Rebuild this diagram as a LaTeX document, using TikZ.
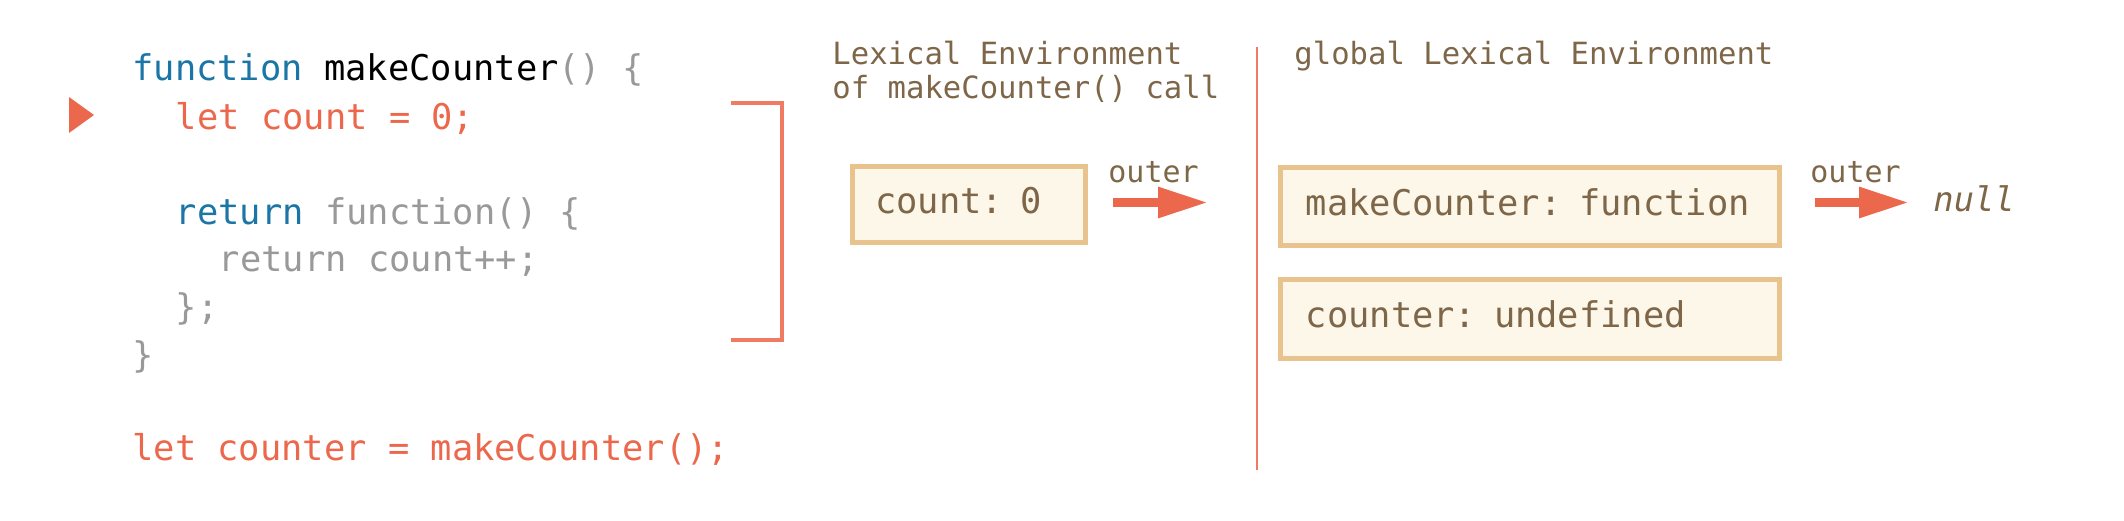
\documentclass[tikz,border=0pt]{standalone}
\usepackage{fontspec}
\usetikzlibrary{arrows.meta}
\newfontfamily\codefont{DejaVu Sans Mono}
\definecolor{kw}{RGB}{27,117,167}
\definecolor{hl}{RGB}{236,104,76}
\definecolor{gr}{RGB}{153,153,153}
\definecolor{br}{RGB}{126,102,72}
\definecolor{boxline}{RGB}{232,195,142}
\definecolor{boxfill}{RGB}{253,247,234}
\definecolor{rl}{RGB}{239,123,98}
\tikzset{
  codeline/.style={anchor=base west, inner sep=0pt, font=\codefont\fontsize{17.7}{20}\selectfont},
  title/.style={anchor=base west, inner sep=0pt, text=br, align=left, font=\codefont\fontsize{15.3}{17}\selectfont},
  lbl/.style={anchor=base west, inner sep=0pt, text=br, font=\codefont\fontsize{15}{17}\selectfont},
  envbox/.style={anchor=north west, draw=boxline, fill=boxfill, line width=2.5pt, inner ysep=0pt,
    align=left, text=br, font=\codefont\fontsize{17.7}{20}\selectfont, text height=12.5pt, text depth=3.5pt},
  outerarrow/.style={draw=hl, line width=4.5pt, -{Triangle[length=25pt,width=14.5pt]}},
  redline/.style={draw=rl, line width=1.6pt},
}
\begin{document}
\begin{tikzpicture}[x=0.5pt,y=-0.5pt]
\useasboundingbox (0,0) rectangle (2124,520);
% code
\node[codeline] (l1) at (132,80) {\textcolor{kw}{function} \textcolor{black}{makeCounter}\textcolor{gr}{() \{}};
\node[codeline, text=hl] (l2) at (175.5,129.5) {let count = 0;};
\node[codeline] (l4) at (175.5,224.5) {\textcolor{kw}{return} \textcolor{gr}{function() \{}};
\node[codeline, text=gr] (l5) at (218.5,271) {return count++;};
\node[codeline, text=gr] (l6) at (175.5,319.5) {\};};
\node[codeline, text=gr] (l7) at (132,367) {\}};
\node[codeline, text=hl] (l9) at (132,460.5) {let counter = makeCounter();};
% execution marker
\fill[hl] (69,97) -- (69,133) -- (94,115) -- cycle;
% bracket
\draw[redline] (731,103) -- (782,103) -- (782,340) -- (731,340);
% separator
\draw[draw=rl, line width=1.2pt] (1257,47) -- (1257,470);
% titles
\node[title] (t1) at (832,64) {Lexical Environment};
\node[title] (t2) at (832,98) {of makeCounter() call};
\node[title] (t3) at (1294,64) {global Lexical Environment};
% boxes
\node[envbox, inner xsep=11.6pt, minimum height=38pt, text width=93.3pt] (b1) at (849.5,164.2) {count: 0};
\node[envbox, inner xsep=12.9pt, minimum height=38.7pt, text width=223.7pt] (b2) at (1277.5,165.2) {makeCounter: function};
\node[envbox, inner xsep=12.9pt, minimum height=39.6pt, text width=223.7pt] (b3) at (1277.5,276.5) {counter: undefined};
% outer arrows
\coordinate (a1s) at (1113,202.5);
\coordinate (a1e) at (1208,202.5);
\draw[outerarrow] (a1s) -- (a1e);
\node[lbl] (o1) at (1108,182) {outer};
\coordinate (a2s) at (1815,202.5);
\coordinate (a2e) at (1909,202.5);
\draw[outerarrow] (a2s) -- (a2e);
\node[lbl] (o2) at (1810,182) {outer};
\node[anchor=base west, inner sep=0pt, text=br, font=\codefont\itshape\fontsize{16.9}{19}\selectfont] (nl) at (1933,211) {null};
\end{tikzpicture}
\end{document}
